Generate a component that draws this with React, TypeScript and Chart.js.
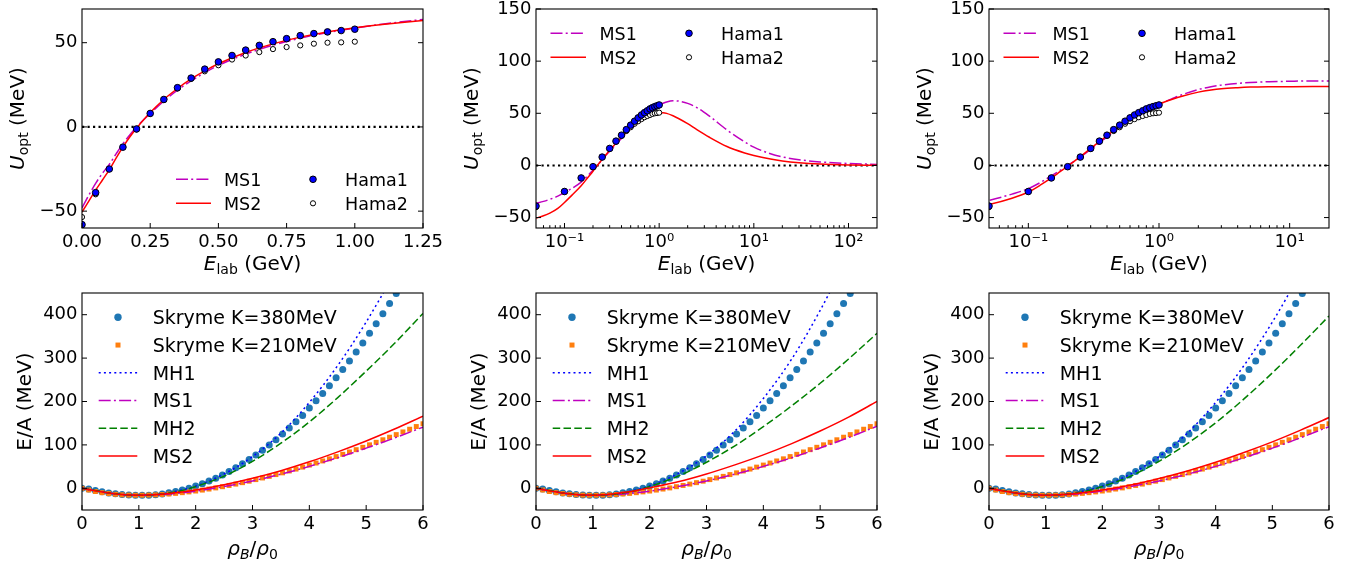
import React, { useEffect, useRef } from "react";
import { Chart, registerables } from "chart.js";

Chart.register(...registerables);

// ================= DATA: top row (optical potential) =================
const hamaE = [0, 0.05, 0.1, 0.15, 0.2, 0.25, 0.3, 0.35, 0.4, 0.45, 0.5, 0.55, 0.6, 0.65, 0.7, 0.75, 0.8, 0.85, 0.9, 0.95, 1.0];
const hama1U = [-58, -39, -25, -12, -1.2, 8, 16.3, 23.3, 29, 34.3, 38.6, 42.4, 45.6, 48.4, 50.6, 52.4, 54.2, 55.4, 56.4, 57.2, 58];
const hama2U = [-53.5, -40, -25, -12, -1.5, 8, 16, 22.8, 28.5, 33, 36.6, 40, 42.4, 44.4, 46.2, 47.4, 48.4, 49.4, 50, 50.2, 50.6];

// model set A (left and right top panels)
const setAE = [0, 0.025, 0.05, 0.075, 0.1, 0.125, 0.15, 0.175, 0.2, 0.25, 0.3, 0.35, 0.4, 0.45, 0.5, 0.6, 0.7, 0.8, 0.9, 1.0, 1.1, 1.25, 1.5, 2, 2.5, 3, 4, 5, 7, 10, 15, 20];
const setAMS1 = [-48, -40.5, -33.5, -27.5, -22.3, -16, -10, -4.8, 0, 8, 15.3, 21.8, 27.3, 32.2, 36.5, 43.2, 48.5, 52.7, 56, 58.7, 61, 63.8, 67.8, 72.8, 75.5, 77, 78.7, 79.5, 80.3, 80.7, 81, 81];
const setAMS2 = [-50.5, -44, -37.5, -31.5, -25.5, -18.5, -12, -6, -0.8, 8.5, 16.3, 22.8, 28.5, 33.3, 37.5, 44.2, 49.3, 53.3, 56.4, 58.8, 60.8, 63.2, 66.3, 70.3, 72.4, 73.6, 74.6, 75.1, 75.4, 75.5, 75.6, 75.6];

// model set B (middle top panel)
const setBE = [0.05, 0.06, 0.07, 0.085, 0.1, 0.12, 0.15, 0.175, 0.2, 0.22, 0.25, 0.3, 0.35, 0.4, 0.5, 0.6, 0.7, 0.8, 0.9, 1.0, 1.1, 1.2, 1.4, 1.6, 2.0, 2.5, 3.4, 5.2, 8, 10, 15, 20, 30, 50, 100, 200];
const setBMS1 = [-36.5, -34.5, -32.5, -29.5, -26, -22, -16, -10, -4.5, -0.5, 5.5, 13.8, 20.3, 25.8, 34.5, 41.2, 46.8, 51.2, 54.8, 57.6, 59.6, 60.9, 62, 61.7, 59.5, 55.5, 47.2, 34, 22.5, 17.5, 11.2, 8.2, 5.5, 3.4, 1.8, 1.0];
const setBMS2 = [-50.5, -48.3, -45.8, -41.2, -35.5, -28.5, -19.5, -12, -5.5, -0.5, 5.8, 14.5, 21.3, 27, 35.3, 40.8, 44.6, 47.3, 49.1, 50.1, 50.4, 49.9, 47.6, 45, 40, 34.3, 27, 18.2, 12, 9.5, 6.1, 4.3, 2.6, 1.3, 0.5, 0.2];

const zeroLevel = 0;

// ================= DATA: bottom row (E/A vs density) =================
const skyrmeRho = [0, 0.118, 0.235, 0.353, 0.471, 0.588, 0.706, 0.824, 0.941, 1.059, 1.176, 1.294, 1.412, 1.529, 1.647, 1.765, 1.882, 2.0, 2.118, 2.235, 2.353, 2.471, 2.588, 2.706, 2.824, 2.941, 3.059, 3.176, 3.294, 3.412, 3.529, 3.647, 3.765, 3.882, 4.0, 4.118, 4.235, 4.353, 4.471, 4.588, 4.706, 4.824, 4.941, 5.059, 5.176, 5.294, 5.412, 5.529, 5.647, 5.765, 5.882, 6.0];
const skyrme380 = [0, -1.7, -4.9, -7.9, -10.6, -12.8, -14.5, -15.7, -16.3, -16.3, -15.8, -14.6, -12.9, -10.5, -7.5, -3.9, 0.3, 5.1, 10.5, 16.6, 23.3, 30.7, 38.6, 47.2, 56.5, 66.3, 76.8, 87.9, 99.7, 112.1, 125.1, 138.7, 153.1, 168, 185, 201.5, 218.5, 236.5, 255, 274, 293.5, 314, 335, 357, 379, 402, 426, 449, 472, 497, 523, 550];
const skyrme210 = [0, -3.9, -7.4, -10.1, -12.2, -13.8, -15, -15.7, -16, -15.9, -15.6, -15.1, -14.2, -13.1, -11.7, -10.1, -8.3, -6.3, -4.1, -1.7, 0.9, 3.7, 6.6, 9.7, 13, 16.4, 20, 23.8, 27.5, 31.6, 35.6, 39.9, 44.3, 48.8, 53.5, 58.2, 63, 67.9, 73.1, 78.3, 83.7, 89, 94.5, 100.2, 106, 111.8, 117.7, 123.7, 129.9, 136.1, 142.3, 148.7];

const curveRho = [0, 0.25, 0.5, 0.75, 1, 1.25, 1.5, 1.75, 2, 2.5, 3, 3.5, 4, 4.5, 5, 5.5, 6];
const mh1Left = [0, -5.5, -11, -14.8, -16, -14.8, -11, -4, 5, 33, 73, 127, 198, 283, 383, 498, 628];
const mh1Mid = [0, -5.5, -11, -14.8, -16, -14.8, -11, -4, 5.5, 34, 75, 132, 207, 298, 410, 540, 690];
const mh1Right = [0, -5.5, -11, -14.8, -16, -14.8, -11, -4, 5, 33, 73, 127, 198, 283, 383, 498, 628];
const ms1Left = [0, -6, -11.5, -14.8, -16, -15.5, -13.5, -10.5, -6.5, 4, 17, 32.5, 50.5, 70.5, 92.5, 116, 141];
const ms1Mid = [0, -6, -11.5, -14.8, -16, -15.5, -13.5, -10.5, -6.5, 4, 17, 32.5, 50.5, 70.5, 93, 117, 143];
const ms1Right = [0, -6, -11.5, -14.8, -16, -15.5, -13.5, -10.5, -6.5, 4, 17, 32.5, 50.5, 70.5, 92.5, 116.5, 142];
const mh2Left = [0, -5.5, -11, -14.8, -16, -15, -11.5, -5.5, 4, 28, 62, 104, 153, 209, 270, 334, 403];
const mh2Mid = [0, -5.5, -11, -14.8, -16, -15, -11.5, -5.5, 4, 28, 60, 98, 142, 190, 242, 298, 357];
const mh2Right = [0, -5.5, -11, -14.8, -16, -15, -11.5, -5.5, 4, 28, 62, 103, 151, 206, 266, 330, 397];
const ms2Left = [0, -6, -11.5, -15, -16, -15, -12.5, -8.5, -4, 8, 23, 40.5, 61, 84, 109, 136.5, 166];
const ms2Mid = [0, -6, -11.5, -15, -16, -14.5, -10.5, -5.5, 1, 15, 33, 54, 77, 103, 132, 164, 200];
const ms2Right = [0, -6, -11.5, -15, -16, -15, -12.5, -8.5, -4, 7.5, 22.5, 40, 60, 82.5, 107, 134, 163];

// ================= ticks =================
const xTicksLin = [0, 0.25, 0.5, 0.75, 1.0, 1.25];
const xTicksLogMid = [0.1, 1, 10, 100];
const xTicksLogRight = [0.1, 1, 10];
const yTicksTopLeft = [-50, 0, 50];
const yTicksTopLog = [-50, 0, 50, 100, 150];
const xTicksRho = [0, 1, 2, 3, 4, 5, 6];
const yTicksEos = [0, 100, 200, 300, 400];

const topLegendLabels = ["MS1", "MS2", "Hama1", "Hama2"];
const eosLegendLabels = ["Skryme K=380MeV", "Skryme K=210MeV", "MH1", "MS1", "MH2", "MS2"];

// ================= styling =================
const FONT = "'DejaVu Sans', 'Liberation Sans', sans-serif";
const PAGE_W = 1369;
const PAGE_H = 565;
const M = 40;
const TICK_SIZE = 18;
const TITLE_SIZE = 20;

const C = {
  magenta: "#bf00bf",
  red: "#ff0000",
  blue: "#0000ff",
  green: "#008000",
  tabBlue: "#1f77b4",
  tabOrange: "#ff7f0e",
};
const DASHDOT = [12, 3.2, 2, 3.2];
const DASHED = [7.5, 3.3];
const DOTTED = [2, 3.2];

type Seg = { t: string; it?: boolean; sub?: boolean };
type Handle =
  | { kind: "line"; color: string; dash: number[]; width: number }
  | { kind: "circle"; fill: string; stroke?: string; r: number }
  | { kind: "square"; fill: string; side: number };
interface LegendEntry { label: string; handle: Handle; hx0: number; hx1: number; tx: number; y: number }
interface PanelSpec {
  box: { l: number; t: number; r: number; b: number };
  xType: "linear" | "logarithmic";
  xMin: number; xMax: number; xTicks: number[]; xFmt: (v: number) => string;
  yMin: number; yMax: number; yTicks: number[];
  rightTicks: boolean;
  xTitle: Seg[]; xTitleDy: number;
  yTitle: Seg[]; yTitleDx: number;
  legend: LegendEntry[]; legendSize: number;
  datasets: any[];
}

const SUP: Record<string, string> = { "-": "\u207B", "0": "\u2070", "1": "\u00B9", "2": "\u00B2", "3": "\u00B3" };
const fmtLog = (v: number) => "10" + String(Math.round(Math.log10(v))).split("").map((c) => SUP[c]).join("");
const fmtNum = (v: number) => (v < 0 ? "\u2212" + Math.abs(v) : String(v));
const fmt2 = (v: number) => v.toFixed(2);

const xy = (xs: number[], ys: number[]) => xs.map((x, i) => ({ x, y: ys[i] }));
const positive = (pts: { x: number; y: number }[]) => pts.filter((p) => p.x > 0);

function lineDs(data: any[], color: string, dash: number[], order: number, width = 1.5) {
  return {
    data, showLine: true, borderColor: color, backgroundColor: color, borderWidth: width,
    borderDash: dash, pointRadius: 0, pointHoverRadius: 0, cubicInterpolationMode: "monotone",
    fill: false, order,
  };
}
function ptDs(data: any[], style: string, r: number, bg: string, border: string, bw: number, order: number) {
  return {
    data, showLine: false, pointStyle: style, pointRadius: r, pointHoverRadius: r,
    pointBackgroundColor: bg, pointBorderColor: border, pointBorderWidth: bw,
    backgroundColor: bg, borderColor: border, order,
  };
}

function topDatasets(log: boolean, E: number[], ms1: number[], ms2: number[], xMin: number, xMax: number) {
  const f = (p: { x: number; y: number }[]) => (log ? positive(p) : p);
  return [
    ptDs(f(xy(hamaE, hama1U)), "circle", 3.3, C.blue, "#000", 1, 0),
    ptDs(f(xy(hamaE, hama2U)), "circle", 2.6, "#ffffff", "#000", 1, 1),
    lineDs(f(xy(E, ms2)), C.red, [], 2),
    lineDs(f(xy(E, ms1)), C.magenta, DASHDOT, 3),
    lineDs([{ x: xMin, y: zeroLevel }, { x: xMax, y: zeroLevel }], "#000", [2.2, 3.3], 4, 2.1),
  ];
}

function eosDatasets(mh1: number[], ms1: number[], mh2: number[], ms2: number[]) {
  return [
    lineDs(xy(curveRho, ms2), C.red, [], 0),
    lineDs(xy(curveRho, mh2), C.green, DASHED, 1),
    lineDs(xy(curveRho, ms1), C.magenta, DASHDOT, 2),
    lineDs(xy(curveRho, mh1), C.blue, DOTTED, 3),
    ptDs(xy(skyrmeRho, skyrme210), "rect", 3.5, C.tabOrange, C.tabOrange, 0, 4),
    ptDs(xy(skyrmeRho, skyrme380), "circle", 3.5, C.tabBlue, C.tabBlue, 0, 5),
  ];
}

const topHandles: Handle[] = [
  { kind: "line", color: C.magenta, dash: DASHDOT, width: 1.5 },
  { kind: "line", color: C.red, dash: [], width: 1.5 },
  { kind: "circle", fill: C.blue, stroke: "#000", r: 3.3 },
  { kind: "circle", fill: "#ffffff", stroke: "#000", r: 2.6 },
];
const eosHandles: Handle[] = [
  { kind: "circle", fill: C.tabBlue, r: 3.7 },
  { kind: "square", fill: C.tabOrange, side: 5 },
  { kind: "line", color: C.blue, dash: DOTTED, width: 1.5 },
  { kind: "line", color: C.magenta, dash: DASHDOT, width: 1.5 },
  { kind: "line", color: C.green, dash: DASHED, width: 1.5 },
  { kind: "line", color: C.red, dash: [], width: 1.5 },
];

function topLegend(rowY: number[], c1: number[], c2: number[]): LegendEntry[] {
  return topLegendLabels.map((label, i) => {
    const col = i < 2 ? c1 : c2;
    return { label, handle: topHandles[i], hx0: col[0], hx1: col[1], tx: col[2], y: rowY[i % 2] };
  });
}
function eosLegend(): LegendEntry[] {
  return eosLegendLabels.map((label, i) => ({ label, handle: eosHandles[i], hx0: 16.7, hx1: 55.3, tx: 70.7, y: 24.3 + 27.75 * i }));
}

const titleE: Seg[] = [{ t: "E", it: true }, { t: "lab", sub: true }, { t: " (GeV)" }];
const titleU: Seg[] = [{ t: "U", it: true }, { t: "opt", sub: true }, { t: " (MeV)" }];
const titleRho: Seg[] = [{ t: "\u03C1", it: true }, { t: "B", it: true, sub: true }, { t: "/" }, { t: "\u03C1", it: true }, { t: "0", sub: true }];
const titleEA: Seg[] = [{ t: "E/A (MeV)" }];

const TOP_T = 9, TOP_B = 228, BOT_T = 293, BOT_B = 510;
const COLS = [{ l: 82, r: 423 }, { l: 536, r: 877 }, { l: 989, r: 1329 }];

const PANELS: PanelSpec[] = [
  {
    box: { l: COLS[0].l, r: COLS[0].r, t: TOP_T, b: TOP_B },
    xType: "linear", xMin: 0, xMax: 1.25, xTicks: xTicksLin, xFmt: fmt2,
    yMin: -60, yMax: 70, yTicks: yTicksTopLeft, rightTicks: true,
    xTitle: titleE, xTitleDy: 42, yTitle: titleU, yTitleDx: 58.5,
    legend: topLegend([170.3, 194.3], [94, 129, 142], [214, 248, 263]), legendSize: 17.5,
    datasets: topDatasets(false, setAE, setAMS1, setAMS2, 0, 1.25),
  },
  {
    box: { l: COLS[1].l, r: COLS[1].r, t: TOP_T, b: TOP_B },
    xType: "logarithmic", xMin: 0.05, xMax: 200, xTicks: xTicksLogMid, xFmt: fmtLog,
    yMin: -60, yMax: 150, yTicks: yTicksTopLog, rightTicks: true,
    xTitle: titleE, xTitleDy: 42, yTitle: titleU, yTitleDx: 58.5,
    legend: topLegend([24.3, 48.3], [14.5, 50, 63.5], [136, 170, 185]), legendSize: 17.5,
    datasets: topDatasets(true, setBE, setBMS1, setBMS2, 0.05, 200),
  },
  {
    box: { l: COLS[2].l, r: COLS[2].r, t: TOP_T, b: TOP_B },
    xType: "logarithmic", xMin: 0.05, xMax: 20, xTicks: xTicksLogRight, xFmt: fmtLog,
    yMin: -60, yMax: 150, yTicks: yTicksTopLog, rightTicks: true,
    xTitle: titleE, xTitleDy: 42, yTitle: titleU, yTitleDx: 58.5,
    legend: topLegend([24.3, 48.3], [14.5, 50, 63.5], [136, 170, 185]), legendSize: 17.5,
    datasets: topDatasets(true, setAE, setAMS1, setAMS2, 0.05, 20),
  },
  {
    box: { l: COLS[0].l, r: COLS[0].r, t: BOT_T, b: BOT_B },
    xType: "linear", xMin: 0, xMax: 6, xTicks: xTicksRho, xFmt: (v) => String(v),
    yMin: -50, yMax: 450, yTicks: yTicksEos, rightTicks: false,
    xTitle: titleRho, xTitleDy: 45, yTitle: titleEA, yTitleDx: 51.5,
    legend: eosLegend(), legendSize: 19,
    datasets: eosDatasets(mh1Left, ms1Left, mh2Left, ms2Left),
  },
  {
    box: { l: COLS[1].l, r: COLS[1].r, t: BOT_T, b: BOT_B },
    xType: "linear", xMin: 0, xMax: 6, xTicks: xTicksRho, xFmt: (v) => String(v),
    yMin: -50, yMax: 450, yTicks: yTicksEos, rightTicks: false,
    xTitle: titleRho, xTitleDy: 45, yTitle: titleEA, yTitleDx: 51.5,
    legend: eosLegend(), legendSize: 19,
    datasets: eosDatasets(mh1Mid, ms1Mid, mh2Mid, ms2Mid),
  },
  {
    box: { l: COLS[2].l, r: COLS[2].r, t: BOT_T, b: BOT_B },
    xType: "linear", xMin: 0, xMax: 6, xTicks: xTicksRho, xFmt: (v) => String(v),
    yMin: -50, yMax: 450, yTicks: yTicksEos, rightTicks: false,
    xTitle: titleRho, xTitleDy: 45, yTitle: titleEA, yTitleDx: 51.5,
    legend: eosLegend(), legendSize: 19,
    datasets: eosDatasets(mh1Right, ms1Right, mh2Right, ms2Right),
  },
];

function drawSegs(ctx: CanvasRenderingContext2D, segs: Seg[], x: number, y: number, size: number) {
  const f = (s: Seg) => `${s.it ? "italic " : ""}${s.sub ? size * 0.7 : size}px ${FONT}`;
  let total = 0;
  const widths = segs.map((s) => {
    ctx.font = f(s);
    const w = ctx.measureText(s.t).width;
    total += w;
    return w;
  });
  let cx = x - total / 2;
  ctx.textAlign = "left";
  ctx.textBaseline = "alphabetic";
  segs.forEach((s, i) => {
    ctx.font = f(s);
    ctx.fillText(s.t, cx, y + (s.sub ? size * 0.22 : 0));
    cx += widths[i];
  });
}

function decorPlugin(spec: PanelSpec) {
  return {
    id: "decor",
    afterDraw(chart: any) {
      const ctx: CanvasRenderingContext2D = chart.ctx;
      const ca = chart.chartArea;
      const xs = chart.scales.x;
      const ys = chart.scales.y;
      ctx.save();
      ctx.setLineDash([]);
      ctx.strokeStyle = "#000";
      ctx.fillStyle = "#000";
      // frame
      ctx.lineWidth = 1.1;
      ctx.strokeRect(ca.left, ca.top, ca.right - ca.left, ca.bottom - ca.top);
      // inward ticks
      ctx.lineWidth = 1.0;
      ctx.beginPath();
      for (const v of spec.xTicks) {
        const px = xs.getPixelForValue(v);
        ctx.moveTo(px, ca.bottom);
        ctx.lineTo(px, ca.bottom - 5);
      }
      if (spec.xType === "logarithmic") {
        const d0 = Math.floor(Math.log10(spec.xMin));
        const d1 = Math.ceil(Math.log10(spec.xMax));
        for (let d = d0; d <= d1; d++) {
          for (let m = 2; m <= 9; m++) {
            const v = m * Math.pow(10, d);
            if (v <= spec.xMin || v >= spec.xMax) continue;
            const px = xs.getPixelForValue(v);
            ctx.moveTo(px, ca.bottom);
            ctx.lineTo(px, ca.bottom - 2.8);
          }
        }
      }
      for (const v of spec.yTicks) {
        const py = ys.getPixelForValue(v);
        ctx.moveTo(ca.left, py);
        ctx.lineTo(ca.left + 5, py);
        if (spec.rightTicks) {
          ctx.moveTo(ca.right, py);
          ctx.lineTo(ca.right - 5, py);
        }
      }
      ctx.stroke();

      // axis titles
      const cx = (ca.left + ca.right) / 2;
      drawSegs(ctx, spec.xTitle, cx, ca.bottom + spec.xTitleDy, TITLE_SIZE);
      ctx.save();
      ctx.translate(ca.left - spec.yTitleDx, (ca.top + ca.bottom) / 2);
      ctx.rotate(-Math.PI / 2);
      drawSegs(ctx, spec.yTitle, 0, 0, TITLE_SIZE);
      ctx.restore();

      // legend
      const ls = spec.legendSize;
      for (const e of spec.legend) {
        const y = ca.top + e.y;
        const x0 = ca.left + e.hx0;
        const x1 = ca.left + e.hx1;
        const h = e.handle;
        if (h.kind === "line") {
          ctx.save();
          ctx.strokeStyle = h.color;
          ctx.lineWidth = h.width;
          ctx.setLineDash(h.dash);
          ctx.beginPath();
          ctx.moveTo(x0, y);
          ctx.lineTo(x1, y);
          ctx.stroke();
          ctx.restore();
        } else if (h.kind === "circle") {
          ctx.save();
          ctx.beginPath();
          ctx.arc((x0 + x1) / 2, y, h.r, 0, Math.PI * 2);
          ctx.fillStyle = h.fill;
          ctx.fill();
          if (h.stroke) {
            ctx.strokeStyle = h.stroke;
            ctx.lineWidth = 1;
            ctx.stroke();
          }
          ctx.restore();
        } else {
          ctx.save();
          ctx.fillStyle = h.fill;
          ctx.fillRect((x0 + x1) / 2 - h.side / 2, y - h.side / 2, h.side, h.side);
          ctx.restore();
        }
        ctx.fillStyle = "#000";
        ctx.font = `${ls}px ${FONT}`;
        ctx.textAlign = "left";
        ctx.textBaseline = "alphabetic";
        ctx.fillText(e.label, ca.left + e.tx, y + ls * 0.36);
      }
      ctx.restore();
    },
  };
}

function buildConfig(spec: PanelSpec): any {
  const { box } = spec;
  const yW = 60;
  const xH = 40;
  const tickFont = { family: FONT, size: TICK_SIZE };
  return {
    type: "scatter",
    data: { datasets: spec.datasets },
    options: {
      animation: false,
      responsive: false,
      devicePixelRatio: 1,
      events: [],
      layout: {
        autoPadding: false,
        padding: { left: box.l + M - yW, top: box.t + M, right: PAGE_W + M - box.r, bottom: PAGE_H + M - box.b - xH },
      },
      plugins: { legend: { display: false }, tooltip: { enabled: false } },
      scales: {
        x: {
          type: spec.xType, min: spec.xMin, max: spec.xMax, position: "bottom",
          grid: { display: false, drawTicks: false }, border: { display: false },
          afterBuildTicks: (s: any) => { s.ticks = spec.xTicks.map((v) => ({ value: v })); },
          afterFit: (s: any) => { s.height = xH; s.paddingLeft = 0; s.paddingRight = 0; s.paddingTop = 0; s.paddingBottom = 0; },
          ticks: {
            autoSkip: false, maxRotation: 0, minRotation: 0, padding: 3.5, color: "#000", font: tickFont,
            callback: (v: any) => spec.xFmt(Number(v)),
          },
        },
        y: {
          type: "linear", min: spec.yMin, max: spec.yMax, position: "left",
          grid: { display: false, drawTicks: false }, border: { display: false },
          afterBuildTicks: (s: any) => { s.ticks = spec.yTicks.map((v) => ({ value: v })); },
          afterFit: (s: any) => { s.width = yW; s.paddingLeft = 0; s.paddingRight = 0; s.paddingTop = 0; s.paddingBottom = 0; },
          ticks: {
            autoSkip: false, padding: 4.5, color: "#000", font: tickFont,
            callback: (v: any) => fmtNum(Number(v)),
          },
        },
      },
    },
    plugins: [decorPlugin(spec)],
  };
}

function Panel({ spec }: { spec: PanelSpec }) {
  const ref = useRef<HTMLCanvasElement>(null);
  useEffect(() => {
    if (!ref.current) return;
    const chart = new Chart(ref.current, buildConfig(spec));
    return () => chart.destroy();
  }, [spec]);
  const w = PAGE_W + 2 * M;
  const h = PAGE_H + 2 * M;
  return (
    <canvas
      ref={ref}
      width={w}
      height={h}
      style={{ position: "absolute", left: -M, top: -M, width: w, height: h }}
    />
  );
}

export default function App() {
  return (
    <div style={{ position: "fixed", left: 0, top: 0, width: PAGE_W, height: PAGE_H, overflow: "hidden", background: "#ffffff" }}>
      {PANELS.map((p, i) => (
        <Panel key={i} spec={p} />
      ))}
    </div>
  );
}
